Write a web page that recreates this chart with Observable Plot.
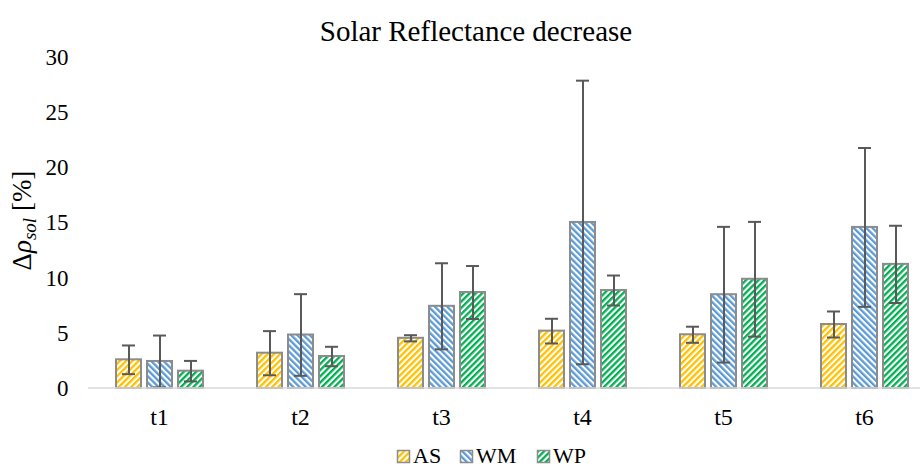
<!DOCTYPE html>
<html>
<head>
<meta charset="utf-8">
<script src="https://cdn.jsdelivr.net/npm/d3@7"></script>
<script src="https://cdn.jsdelivr.net/npm/@observablehq/plot@0.6"></script>
<style>
  html, body { margin: 0; padding: 0; background: #fff; }
  #chart { width: 924px; height: 469px; }
  #chart svg, #chart svg text { font-family: "Liberation Serif", "Times New Roman", serif !important; }
</style>
</head>
<body>
<div id="chart"></div>
<script>
const categories = ["t1", "t2", "t3", "t4", "t5", "t6"];
const seriesNames = ["AS", "WM", "WP"];
const meanAS = [2.6, 3.2, 4.55, 5.2, 4.87, 5.8];
const meanWM = [2.45, 4.85, 7.45, 15.05, 8.5, 14.6];
const meanWP = [1.57, 2.9, 8.7, 8.88, 9.9, 11.25];
const errAS = [1.3, 2.0, 0.28, 1.12, 0.73, 1.18];
const errWM = [2.35, 3.7, 3.9, 12.85, 6.15, 7.2];
const errWP = [0.93, 0.88, 2.4, 1.36, 5.2, 3.5];
const yTicks = [0, 5, 10, 15, 20, 25, 30];
const titleText = "Solar Reflectance decrease";

const colors = {AS: "#FFC000", WM: "#5B9BD5", WP: "#00B050"};
const angles = {AS: 45, WM: -45, WP: 45};

const means = {AS: meanAS, WM: meanWM, WP: meanWP};
const errs = {AS: errAS, WM: errWM, WP: errWP};
const data = [];
categories.forEach((c, i) => {
  seriesNames.forEach(s => {
    data.push({cat: c, series: s, value: means[s][i], lo: means[s][i] - errs[s][i], hi: means[s][i] + errs[s][i]});
  });
});

const FONT = "Liberation Serif";
const W = 924, H = 469;
const plot = Plot.plot({
  width: W,
  height: H,
  marginLeft: 87,
  marginRight: 0,
  marginTop: 57,
  marginBottom: 81,
  style: "font-family: 'Liberation Serif', serif; background: #fff;",
  fx: {domain: categories, paddingInner: 0.332, paddingOuter: 0.126, align: 0.67, label: null},
  x: {domain: seriesNames, paddingInner: 0.2, paddingOuter: 0.1, axis: null},
  y: {domain: [0, 30], ticks: yTicks, label: null},
  facet: {data: data, x: "cat"},
  marks: [
    Plot.axisY({ticks: yTicks, tickSize: 0, tickPadding: 44, fontSize: 23, fontFamily: FONT, label: null, fill: "#000"}),
    Plot.axisFx({anchor: "bottom", tickSize: 0, tickPadding: 19, fontSize: 24, fontFamily: FONT, label: null, fill: "#000"}),
    Plot.barY(data, {x: "series", y: "value", fill: d => "url(#pat-" + d.series + ")", stroke: "#8C8C8C", strokeWidth: 2}),
    Plot.ruleX(data, {x: "series", y1: "lo", y2: "hi", stroke: "#595959", strokeWidth: 2}),
    Plot.tickY(data, {x: "series", y: "hi", stroke: "#595959", strokeWidth: 2, insetLeft: 6, insetRight: 6}),
    Plot.tickY(data, {x: "series", y: "lo", stroke: "#595959", strokeWidth: 2, insetLeft: 6, insetRight: 6})
  ]
});

const svg = d3.select(plot);
// patterns
const defs = svg.insert("defs", ":first-child");
seriesNames.forEach(s => {
  const p = defs.append("pattern")
    .attr("id", "pat-" + s)
    .attr("patternUnits", "userSpaceOnUse")
    .attr("width", 4.4).attr("height", 4.4)
    .attr("patternTransform", `rotate(${angles[s]})`);
  p.append("rect").attr("width", 4.4).attr("height", 4.4).attr("fill", "#fff");
  p.append("rect").attr("width", 2.3).attr("height", 4.4).attr("fill", colors[s]);
});

// baseline axis line using the y scale
const yScale = plot.scale("y");
const y0 = yScale.apply(0);
svg.append("line")
  .attr("x1", 88).attr("x2", 920)
  .attr("y1", y0).attr("y2", y0)
  .attr("stroke", "#D9D9D9").attr("stroke-width", 1.5);

// title
svg.append("text")
  .attr("x", 476).attr("y", 41)
  .attr("text-anchor", "middle")
  .attr("font-size", 29)
  .attr("font-family", FONT)
  .attr("fill", "#000")
  .text(titleText);

// y label
const yl = svg.append("text")
  .attr("transform", `translate(31, ${(yScale.apply(0) + yScale.apply(30)) / 2 - 2}) rotate(-90)`)
  .attr("text-anchor", "middle")
  .attr("font-size", 27)
  .attr("font-family", FONT)
  .attr("fill", "#000");
yl.append("tspan").text("Δ");
yl.append("tspan").attr("font-style", "italic").text("ρ");
yl.append("tspan").attr("font-style", "italic").attr("font-size", 19).attr("dy", 5).text("sol");
yl.append("tspan").attr("dy", -5).text(" [%]");

// legend
const legend = svg.append("g").attr("transform", "translate(0, 463)");
const legendX = [397, 460, 537];
seriesNames.forEach((s, i) => {
  const g = legend.append("g").attr("transform", `translate(${legendX[i]}, 0)`);
  g.append("rect").attr("x", 0.5).attr("y", -12.5).attr("width", 12).attr("height", 12)
    .attr("fill", `url(#pat-${s})`).attr("stroke", "#8C8C8C").attr("stroke-width", 1.5);
  g.append("text").attr("x", 16).attr("y", 0).attr("text-anchor", "start")
    .attr("font-size", 22).attr("font-family", FONT).attr("fill", "#000").text(s);
});

document.getElementById("chart").appendChild(plot);
</script>
</body>
</html>
